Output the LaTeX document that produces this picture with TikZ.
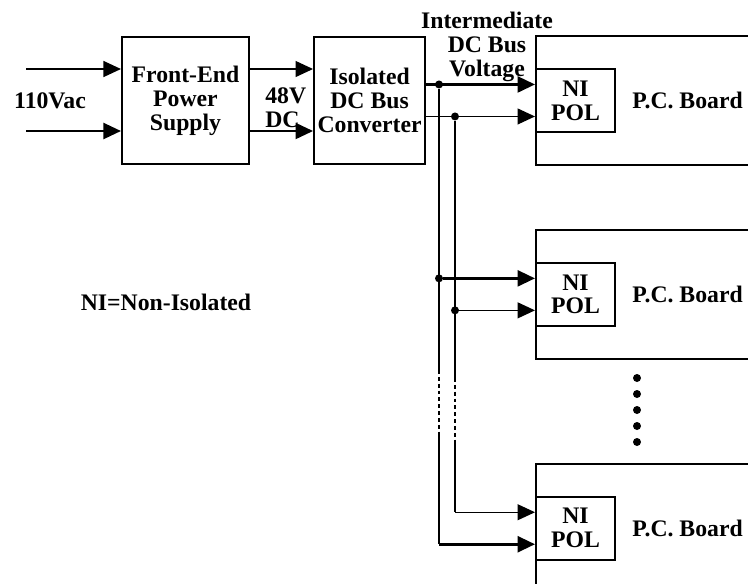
\documentclass[tikz,border=0pt]{standalone}
\usepackage{fontspec}
\setmainfont{Liberation Serif}
\usetikzlibrary{positioning, arrows.meta, calc}
\newcommand{\diaglbl}{\fontsize{13.5}{13.6}\selectfont\bfseries}
\tikzset{
  unit/.style={draw, line width=1.2pt, minimum height=2.54cm, align=center, inner sep=1pt, font=\diaglbl},
  block/.style={unit, minimum width=2.54cm},
  board/.style={draw, line width=1.1pt, minimum width=5cm, minimum height=2.58cm},
  pol/.style={draw, line width=1.1pt, minimum width=1.58cm, minimum height=1.26cm, align=center, inner sep=1pt, font=\diaglbl},
  tag/.style={align=center, font=\diaglbl, inner sep=0pt},
  feed/.style={-{Triangle[length=0.35cm, width=0.32cm]}, line width=0.7pt},
  heavyfeed/.style={feed, line width=1.5pt},
  wire/.style={line width=0.7pt},
  heavywire/.style={line width=1.5pt},
  gapline/.style={dash pattern=on 2.2pt off 1.7pt},
  tap/.style={circle, fill, inner sep=0pt, minimum size=0.16cm},
}

\begin{document}
\begin{tikzpicture}[x=0.02cm, y=-0.02cm, node distance=1.26cm]
  \useasboundingbox (0,0) rectangle (748,583);
  \clip (0,0) rectangle (748,583);
  \node[block] (fe) at (185.5,100.5) {Front-End\\Power\\Supply};
  \node[unit, minimum width=2.22cm, right=of fe] (bc) {Isolated\\DC Bus\\Converter};
  \node[board, anchor=north west] (board1) at (535,35) {};
  \node[board, below=of board1] (board2) {};
  \node[board, below=2.06cm of board2] (board3) {};
  \foreach \i in {1,2,3} {
    \node[pol, anchor=west] (pol\i) at (board\i.west) {NI\\POL};
    \node[tag, right=0.32cm of pol\i] (pcb\i) {P.C. Board};
    \coordinate (up\i) at ($(pol\i.west)+(0,-16)$);
    \coordinate (lo\i) at ($(pol\i.west)+(0,16)$);
  }
  \node[tag] (vac) at (50,101) {110Vac};
  \node[tag, align=left, anchor=west] (dc48) at (265,108) {48V\\DC};
  \node[tag] (ibus) at (487,47) {Intermediate\\DC Bus\\Voltage};
  \node[tag] (nidef) at (166,302) {NI=Non-Isolated};
  \foreach \k in {1,...,5} \node[tap] (more\k) at (637,362+16*\k) {};

  \coordinate (ac1) at (26,69);
  \coordinate (ac2) at (26,131);
  \draw[feed] (ac1) -- (ac1 -| fe.west);
  \draw[feed, line width=1.2pt] (ac2) -- (ac2 -| fe.west);
  \draw[feed] (fe.east |- ac1) -- (bc.west |- ac1);
  \draw[feed, line width=1.2pt] (fe.east |- ac2) -- (bc.west |- ac2);

  \coordinate (railA) at (439,0);
  \coordinate (railB) at (455,0);
  \node[tap] (ta1) at (railA |- up1) {};
  \node[tap] (tb1) at (railB |- lo1) {};
  \node[tap] (ta2) at (railA |- up2) {};
  \node[tap] (tb2) at (railB |- lo2) {};
  \draw[heavyfeed] (bc.east |- up1) -- (up1);
  \draw[feed] (bc.east |- lo1) -- (lo1);
  \draw[heavyfeed] (ta2) -- (up2);
  \draw[feed] (tb2) -- (lo2);
  \draw[feed] (railB |- up3) -- (up3);
  \draw[heavyfeed] (railA |- lo3) -- (lo3);

  \coordinate (cutA) at (439,370);
  \coordinate (resA) at (439,435);
  \coordinate (cutB) at (455,378);
  \coordinate (resB) at (455,441);
  \draw[wire] (ta1) -- (cutA);
  \draw[wire, gapline] (cutA) -- (resA);
  \draw[wire] (resA) -- (railA |- lo3);
  \draw[heavywire] (tb1) -- (cutB);
  \draw[line width=1.2pt, gapline] (cutB) -- (resB);
  \draw[wire] (resB) -- (railB |- up3);
\end{tikzpicture}
\end{document}
